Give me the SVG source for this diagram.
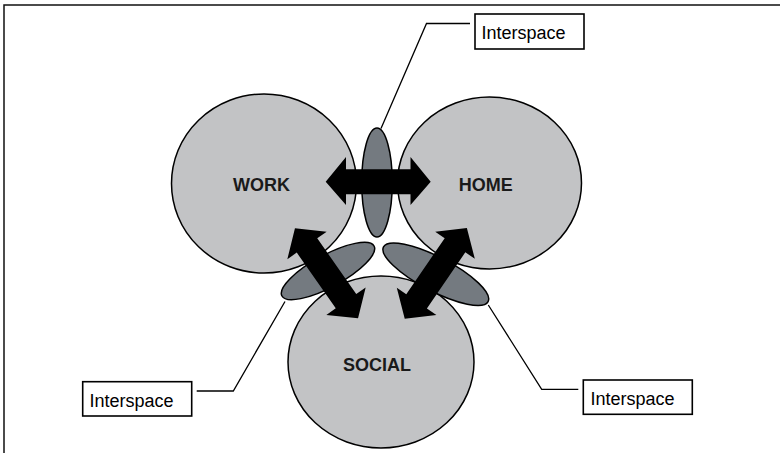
<svg xmlns="http://www.w3.org/2000/svg" width="780" height="453" viewBox="0 0 780 453">
<style>
.circle{fill:#c2c3c5;stroke:#000;stroke-width:1.5}
.inter{fill:#747a80;stroke:#000;stroke-width:1.5}
.arrow{fill:#000}
.lbl{font-family:"Liberation Sans",Arial,sans-serif;font-weight:bold;font-size:18px;fill:#1a1a1a;text-anchor:middle}
.box{fill:#fff;stroke:#000;stroke-width:1.6}
.btxt{font-family:"Liberation Sans",Arial,sans-serif;font-size:18px;fill:#000}
.lead{fill:none;stroke:#000;stroke-width:1.3}
.frame{fill:none;stroke:#111;stroke-width:1.5}
</style>
<defs>
<path id="dbl" d="M -55 0 L -34 -24 L -34 -12.5 L 34 -12.5 L 34 -24 L 55 0 L 34 24 L 34 12.5 L -34 12.5 L -34 24 Z"/>
</defs>
<rect width="780" height="453" fill="#fff"/>
<g id="frame">
<path class="frame" d="M 4 453 L 4 5 L 780 5"/>
</g>
<g id="work"><ellipse class="circle" cx="264" cy="183.5" rx="92.5" ry="89.5"/></g>
<g id="home"><ellipse class="circle" cx="489.5" cy="183" rx="92" ry="86"/></g>
<g id="social"><ellipse class="circle" cx="381" cy="362" rx="93" ry="86"/></g>
<g id="interspace-top"><ellipse class="inter" cx="377" cy="182.5" rx="15.3" ry="54.5"/></g>
<g id="interspace-left"><ellipse class="inter" cx="328" cy="271" rx="52.4" ry="16" transform="rotate(-28.5 328 271)"/></g>
<g id="interspace-right"><ellipse class="inter" cx="435.8" cy="274.2" rx="59" ry="17" transform="rotate(27.6 435.8 274.2)"/></g>
<g id="connectors">
<path class="arrow" d="M 325.7 181.7 L 346 157 L 346 169.3 L 410.5 169.3 L 410.5 157 L 430.7 181.7 L 410.5 205 L 410.5 194.3 L 346 194.3 L 346 205 Z"/>
<use href="#dbl" class="arrow" transform="translate(326.5 273.3) rotate(55)"/>
<use href="#dbl" class="arrow" transform="translate(435.8 273.3) rotate(-55.6)"/>
<path class="lead" d="M 470 23.5 L 426.5 23.5 L 381 128.5"/>
<path class="lead" d="M 196.7 391 L 233.3 391 L 285 301.5"/>
<path class="lead" d="M 488.3 305 L 541.7 389.3 L 578.3 389.3"/>
</g>
<g id="label-work"><text class="lbl" x="261.5" y="190.5">WORK</text></g>
<g id="label-home"><text class="lbl" x="485.8" y="190.5">HOME</text></g>
<g id="label-social"><text class="lbl" x="377" y="370.5">SOCIAL</text></g>
<g id="box-top"><rect class="box" x="475" y="14" width="109" height="35"/><text class="btxt" x="481.5" y="39">Interspace</text></g>
<g id="box-left"><rect class="box" x="82.7" y="381.7" width="109" height="34.3"/><text class="btxt" x="89.5" y="406.5">Interspace</text></g>
<g id="box-right"><rect class="box" x="583.3" y="380" width="109" height="34.3"/><text class="btxt" x="590.5" y="405">Interspace</text></g>
</svg>
